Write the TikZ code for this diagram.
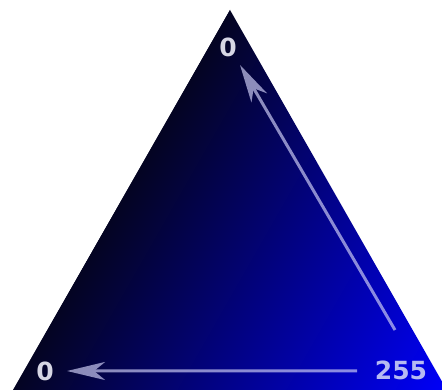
\documentclass[tikz,border=0pt]{standalone}
\usepackage{fontspec}
\setsansfont{DejaVu Sans}
\usetikzlibrary{arrows.meta}
\definecolor{arrowcol}{RGB}{205,205,245}
\definecolor{zerocol}{RGB}{215,215,228}
\definecolor{maxcol}{RGB}{182,186,242}
\definecolor{darkend}{RGB}{4,4,34}
\definecolor{blueend}{RGB}{0,0,250}
\begin{document}
\begin{tikzpicture}[x=1pt,y=1pt,
  lbl/.style={inner sep=0pt, font=\sffamily\bfseries\fontsize{25}{25}\selectfont},
  conn/.style={draw=arrowcol, line width=3pt,
    -{Stealth[length=38pt,width=18pt,inset=11pt,fill=arrowcol]}}]
\useasboundingbox (0,0) rectangle (442,390);
\fill[white] (0,0) rectangle (442,390);
\coordinate (A) at (230,380);
\coordinate (BL) at (12,-2);
\coordinate (BR) at (448,-2);
\begin{scope}
  \clip (0,0) rectangle (442,390);
  \clip (A) -- (BL) -- (BR) -- cycle;
  \begin{scope}[transform canvas={shift={(12pt,-2pt)}, rotate=-29.72}]
    \fill[darkend] (-300,-700) rectangle (0.5,700);
    \shade[left color=darkend, right color=blueend] (0,-700) rectangle (378.7,700);
    \fill[blueend] (378.5,-700) rectangle (900,700);
  \end{scope}
\end{scope}
\node[lbl, text=zerocol] (top) at (228,343) {0};
\node[lbl, text=zerocol] (left) at (45,19) {0};
\node[lbl, text=maxcol] (max) at (401,20) {255};
\coordinate (u1) at (395,60);
\coordinate (u2) at (240,325);
\coordinate (h1) at (357,19);
\coordinate (h2) at (67,19);
\begin{scope}[transparency group, opacity=0.68]
\draw[conn] (u1) -- (u2);
\draw[conn] (h1) -- (h2);
\end{scope}
\end{tikzpicture}
\end{document}
